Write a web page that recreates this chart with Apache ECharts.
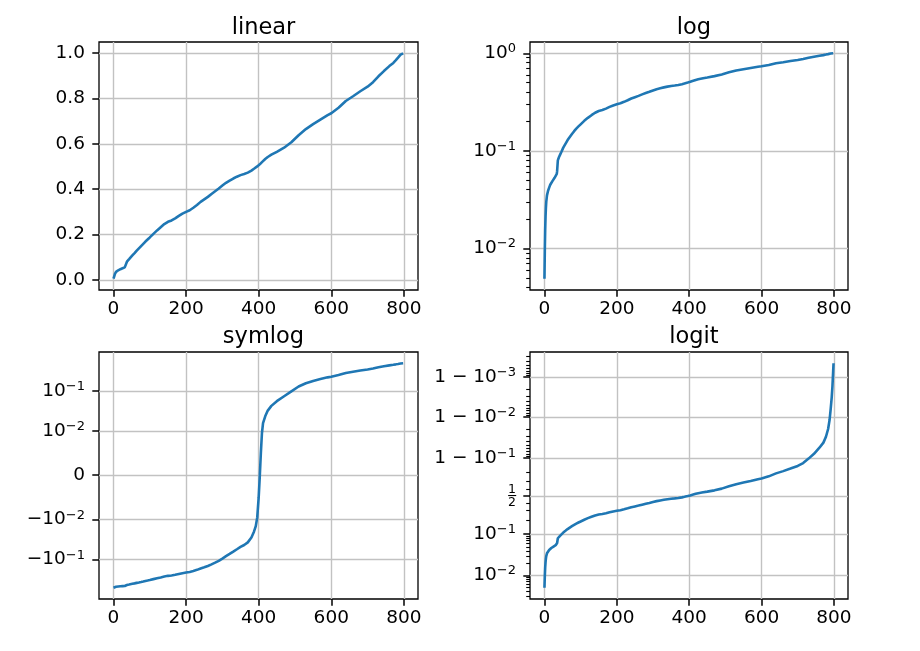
<!DOCTYPE html>
<html><head><meta charset="utf-8">
<script src="https://cdn.jsdelivr.net/npm/echarts@6/dist/echarts.min.js"></script>
<style>html,body{margin:0;padding:0;background:#fff}#c{width:920px;height:651px}</style>
</head><body><div id="c"></div>
<script>
// ---- data (sorted samples, index -> value) ----
const sampleX = [0,1,2,3,4,5,7,10,13,16,19,22,25,28,31,34,35,37,40,43,47,52,58,64,70,76,82,88,94,100,
  110,120,130,140,150,160,170,180,190,200,210,220,230,240,250,260,270,280,290,300,310,320,330,340,350,
  360,370,380,387,392,396,400,403,406,409,412,418,425,435,450,470,490,510,530,550,570,590,600,620,640,
  660,680,700,715,730,745,760,771,778,784,788,791,794,796,798,799];
const sampleY = [0.0049,0.0095,0.0155,0.021,0.026,0.030,0.035,0.039,0.042,0.045,0.047,0.049,0.051,0.053,0.055,0.058,0.062,0.080,0.086,0.091,0.098,0.108,0.118,0.129,0.139,0.149,0.159,0.169,0.178,0.187,
  0.203,0.218,0.232,0.246,0.256,0.262,0.271,0.282,0.292,0.300,0.307,0.318,0.330,0.344,0.355,0.366,0.379,0.391,0.403,0.416,0.428,0.438,0.447,0.455,0.462,
  0.467,0.473,0.482,0.490,0.4955,0.5005,0.505,0.5097,0.515,0.5195,0.5255,0.533,0.542,0.552,0.565,0.583,0.607,0.638,0.665,0.687,0.707,0.727,0.735,0.759,0.789,
  0.810,0.832,0.852,0.872,0.898,0.921,0.943,0.957,0.969,0.980,0.988,0.9935,0.9968,0.9983,0.9993,0.99955];
const yMean = 0.51;
const lastIndex = 799;
const symlogThresh = 0.01;

const titles = ['linear', 'log', 'symlog', 'logit'];
const xTicks = [0, 200, 400, 600, 800];
const linearTicks = [0, 0.2, 0.4, 0.6, 0.8, 1.0];
const logTicks = [0.01, 0.1, 1];
const logTickLabels = [['10', '−2'], ['10', '−1'], ['10', '0']];
const symlogTicks = [-0.1, -0.01, 0, 0.01, 0.1];
const symlogTickLabels = [['−10', '−1'], ['−10', '−2'], ['0', ''], ['10', '−2'], ['10', '−1']];
const logitTicks = [0.01, 0.1, 0.5, 0.9, 0.99, 0.999];
const logitTickLabels = [['10', '−2'], ['10', '−1'], ['HALF', ''], ['1 − 10', '−1'], ['1 − 10', '−2'], ['1 − 10', '−3']];

// ---- scale helpers ----
const linAdj = 1 / (1 - 1 / 10);
function symlog(v) {
  const a = Math.abs(v);
  const t = a <= symlogThresh ? a / symlogThresh * linAdj : linAdj + Math.log10(a / symlogThresh);
  return v < 0 ? -t : t;
}
function logit(p) { return Math.log10(p / (1 - p)); }
function pad(lo, hi) { const s = (hi - lo) * 0.05; return [lo - s, hi + s]; }

const yMin = Math.min(...sampleY), yMax = Math.max(...sampleY);
const xRange = pad(0, lastIndex);
const linRange = pad(yMin, yMax);
const logR = pad(Math.log10(yMin), Math.log10(yMax));
const logRange = [Math.pow(10, logR[0]), Math.pow(10, logR[1])];
const symRange = pad(symlog(yMin - yMean), symlog(yMax - yMean));
const logitRange = pad(logit(yMin), logit(yMax));

const logMinor = [];
[-3, -2, -1, 0].forEach(k => { for (let m = 2; m <= 9; m++) logMinor.push(m * Math.pow(10, k)); });
const logMinorIn = logMinor.filter(v => v >= logRange[0] && v <= logRange[1]);
const logitMinorP = [];
[-4, -3, -2, -1].forEach(k => { for (let m = 2; m <= 9; m++) { const p = m * Math.pow(10, k); if (p < 0.5) { logitMinorP.push(p); logitMinorP.push(1 - p); } } });
const logitMinor = logitMinorP.map(logit).filter(v => v >= logitRange[0] && v <= logitRange[1]);

// ---- styles ----
const FONT = 'DejaVu Sans';
const FS = 18.5;
const gridLine = { show: true, lineStyle: { color: '#c2c2c2', width: 1.4 } };
const tickStyle = { color: '#000', width: 1.5 };
const rich = {
  b: { fontSize: FS, fontFamily: FONT, color: '#000', lineHeight: 22 },
  s: { fontSize: 13, fontFamily: FONT, color: '#000', lineHeight: 13, verticalAlign: 'top' },
  fn: { fontSize: 12.5, fontFamily: FONT, color: '#000', lineHeight: 10 },
  fb: { fontSize: 13, fontFamily: FONT, color: '#000', lineHeight: 3 }
};
function richLabel(base, sup) {
  if (base === 'HALF') return '{fn|1}\n{fb|─}\n{fn|2}';
  return sup ? '{b|' + base + '}{s|' + sup + '}' : '{b|' + base + '}';
}
function lookup(ticks, labels, v, rel) {
  for (let i = 0; i < ticks.length; i++) {
    const d = rel ? Math.abs(v / ticks[i] - 1) : Math.abs(v - ticks[i]);
    if (d < 1e-6) return richLabel(labels[i][0], labels[i][1]);
  }
  return '';
}

const grids = [
  { left: 99, top: 42, width: 319, height: 248 },
  { left: 530, top: 42, width: 318, height: 248 },
  { left: 99, top: 352, width: 319, height: 247 },
  { left: 530, top: 352, width: 318, height: 247 }
].map(g => Object.assign(g, { show: true, borderColor: '#000', borderWidth: 1.3, backgroundColor: '#fff', outerBoundsMode: 'none', containLabel: false }));

const xAxes = grids.map((g, i) => ({
  type: 'value', gridIndex: i, min: xRange[0], max: xRange[1],
  axisLine: { show: false, onZero: false },
  axisTick: { show: true, customValues: xTicks, length: 6.7, lineStyle: tickStyle },
  axisLabel: { customValues: xTicks, fontSize: FS, fontFamily: FONT, color: '#000', margin: 10 },
  splitLine: gridLine
}));

const yBase = {
  position: 'left',
  axisLine: { show: false, onZero: false },
  splitLine: gridLine
};
const yAxes = [
  Object.assign({}, yBase, {
    type: 'value', gridIndex: 0, min: linRange[0], max: linRange[1],
    axisTick: { customValues: linearTicks, length: 6.7, lineStyle: tickStyle },
    axisLabel: { customValues: linearTicks, fontSize: FS, fontFamily: FONT, color: '#000', margin: 14, formatter: v => v.toFixed(1) }
  }),
  Object.assign({}, yBase, {
    type: 'log', logBase: 10, gridIndex: 1, min: logRange[0], max: logRange[1],
    axisTick: { customValues: logTicks, length: 6.7, lineStyle: tickStyle },
    axisLabel: { customValues: logTicks, margin: 14, rich: rich, formatter: v => lookup(logTicks, logTickLabels, v, true) }
  }),
  {
    type: 'log', logBase: 10, gridIndex: 1, min: logRange[0], max: logRange[1], position: 'left', offset: 0,
    axisLine: { show: false, onZero: false }, splitLine: { show: false }, axisLabel: { show: false },
    axisTick: { customValues: logMinorIn, length: 3.8, lineStyle: { color: '#000', width: 1.1 } }
  },
  Object.assign({}, yBase, {
    type: 'value', gridIndex: 2, min: symRange[0], max: symRange[1],
    axisTick: { customValues: symlogTicks.map(symlog), length: 6.7, lineStyle: tickStyle },
    axisLabel: { customValues: symlogTicks.map(symlog), margin: 14, rich: rich,
      formatter: v => lookup(symlogTicks.map(symlog), symlogTickLabels, v, false) }
  }),
  Object.assign({}, yBase, {
    type: 'value', gridIndex: 3, min: logitRange[0], max: logitRange[1],
    axisTick: { customValues: logitTicks.map(logit), length: 6.7, lineStyle: tickStyle },
    axisLabel: { customValues: logitTicks.map(logit), margin: 14, rich: rich,
      formatter: v => lookup(logitTicks.map(logit), logitTickLabels, v, false) }
  }),
  {
    type: 'value', gridIndex: 3, min: logitRange[0], max: logitRange[1], position: 'left', offset: 0,
    axisLine: { show: false, onZero: false }, splitLine: { show: false }, axisLabel: { show: false },
    axisTick: { customValues: logitMinor, length: 3.8, lineStyle: { color: '#000', width: 1.1 } }
  }
];

const transforms = [v => v, v => v, v => symlog(v - yMean), v => logit(v)];
const yIdx = [0, 1, 3, 4];
const series = transforms.map((f, i) => ({
  type: 'line', xAxisIndex: i, yAxisIndex: yIdx[i], showSymbol: false, silent: true,
  lineStyle: { color: '#1f77b4', width: 2.6 }, clip: true,
  data: sampleX.map((x, k) => [x, f(sampleY[k])])
}));

const titleTops = [12, 12, 321, 321];
const title = titles.map((t, i) => ({
  text: t, left: grids[i].left + grids[i].width / 2, top: titleTops[i], textAlign: 'center',
  textStyle: { fontFamily: FONT, fontSize: 22.5, fontWeight: 'normal', color: '#000' }
}));

const chart = echarts.init(document.getElementById('c'), null, { renderer: 'canvas' });
chart.setOption({
  animation: false, backgroundColor: '#fff',
  title: title, grid: grids, xAxis: xAxes, yAxis: yAxes, series: series
});
</script></body></html>
